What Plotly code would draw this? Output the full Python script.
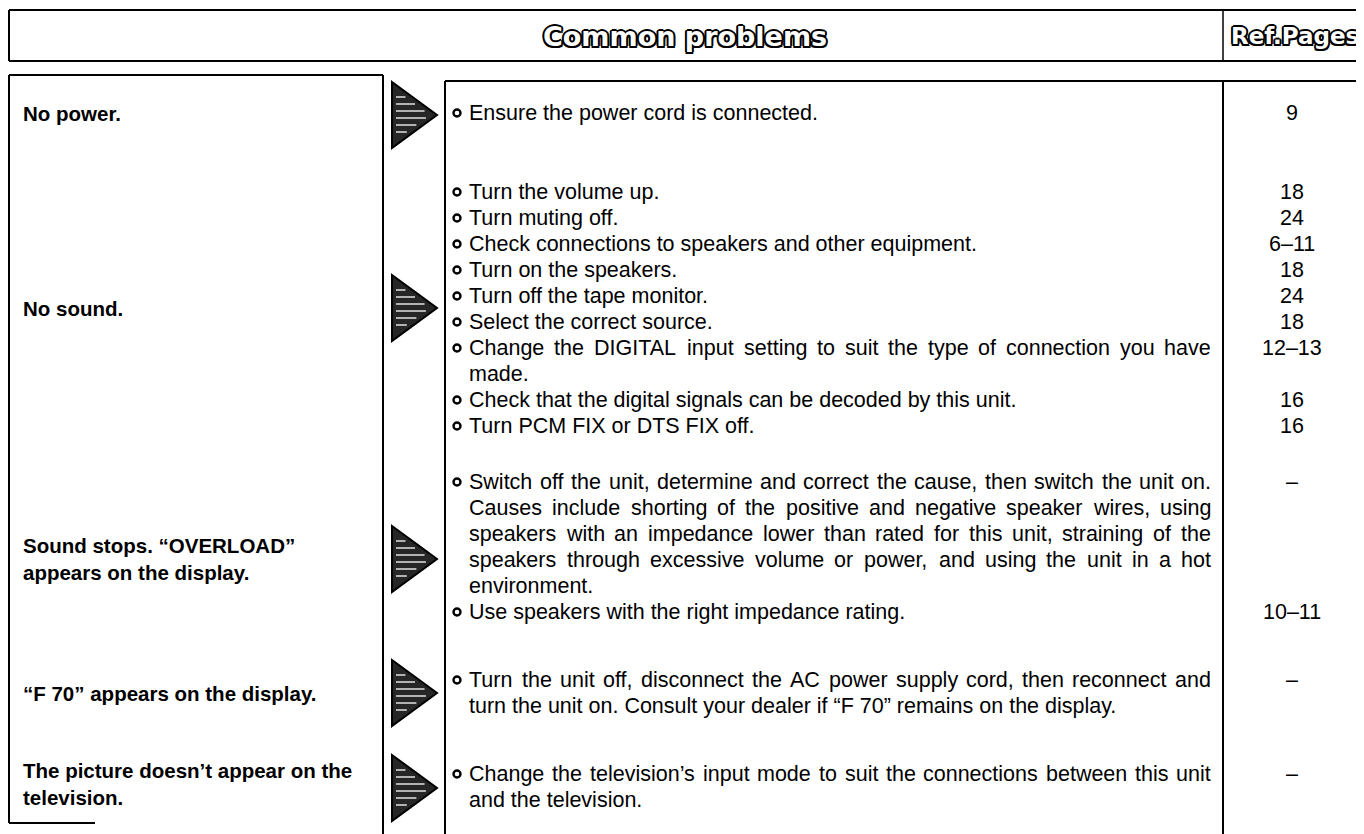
import plotly.graph_objects as go

W, H = 1364, 834
PAD = 8  # default body margin of the html page

# ---------------- data ----------------
title_text = "Common problems"
ref_header = "Ref.Pages"

problems = [
    "No power.",
    "No sound.",
    "Sound stops. “OVERLOAD”<br>appears on the display.",
    "“F 70” appears on the display.",
    "The picture doesn’t appear on the<br>television.",
]

remedies_power = [["Ensure the power cord is connected."]]
refs_power = ["9"]

remedies_sound = [
    ["Turn the volume up."],
    ["Turn muting off."],
    ["Check connections to speakers and other equipment."],
    ["Turn on the speakers."],
    ["Turn off the tape monitor."],
    ["Select the correct source."],
    ["Change the DIGITAL input setting to suit the type of connection you have", "made."],
    ["Check that the digital signals can be decoded by this unit."],
    ["Turn PCM FIX or DTS FIX off."],
]
refs_sound = ["18", "24", "6–11", "18", "24", "18", "12–13", "16", "16"]

remedies_overload = [
    ["Switch off the unit, determine and correct the cause, then switch the unit on.",
     "Causes include shorting of the positive and negative speaker wires, using",
     "speakers with an impedance lower than rated for this unit, straining of the",
     "speakers through excessive volume or power, and using the unit in a hot",
     "environment."],
    ["Use speakers with the right impedance rating."],
]
refs_overload = ["–", "10–11"]

remedies_f70 = [
    ["Turn the unit off, disconnect the AC power supply cord, then reconnect and",
     "turn the unit on. Consult your dealer if “F 70” remains on the display."],
]
refs_f70 = ["–"]

remedies_tv = [
    ["Change the television’s input mode to suit the connections between this unit",
     "and the television."],
]
refs_tv = ["–"]

groups = [remedies_power, remedies_sound, remedies_overload, remedies_f70, remedies_tv]
group_refs = [refs_power, refs_sound, refs_overload, refs_f70, refs_tv]

# ---------------- layout / style ----------------
FONT = "Liberation Sans, Arial, Helvetica, sans-serif"
FS = 21.5
FSB = 20.5
LINE = 26
group_start = [113, 192, 482, 680, 774]
label_y = [113, 308, 559, 693, 784]
arrow_y = [115, 308, 559, 693, 788]
LABEL_X = 21
BULLET_X = 457
TEXT_X = 467
JUST_R = 1209
REF_X = 1292

# Helvetica / Arial advance widths (1/1000 em)
HW = {' ': 278, '!': 278, '"': 355, "'": 191, '(': 333, ')': 333, ',': 278, '-': 333, '.': 278,
      '/': 278, ':': 278, ';': 278, '?': 556, '“': 333, '”': 333, '’': 222, '–': 556,
      'A': 667, 'B': 667, 'C': 722, 'D': 722, 'E': 667, 'F': 611, 'G': 778, 'H': 722, 'I': 278,
      'J': 500, 'K': 667, 'L': 556, 'M': 833, 'N': 722, 'O': 778, 'P': 667, 'Q': 778, 'R': 722,
      'S': 667, 'T': 611, 'U': 722, 'V': 667, 'W': 944, 'X': 667, 'Y': 667, 'Z': 611,
      'a': 556, 'b': 556, 'c': 500, 'd': 556, 'e': 556, 'f': 278, 'g': 556, 'h': 556, 'i': 222,
      'j': 222, 'k': 500, 'l': 222, 'm': 833, 'n': 556, 'o': 556, 'p': 556, 'q': 556, 'r': 333,
      's': 500, 't': 278, 'u': 556, 'v': 500, 'w': 722, 'x': 500, 'y': 500, 'z': 500}
for d in "0123456789":
    HW[d] = 556


def tw(s, fs=FS):
    return sum(HW.get(c, 556) for c in s) * fs / 1000.0


fig = go.Figure()
shapes = []
ann = []


def line(x0, y0, x1, y1, w=2.0, c="black"):
    shapes.append(dict(type="line", x0=x0, y0=y0, x1=x1, y1=y1, xref="x", yref="y",
                       line=dict(color=c, width=w)))


# header box
line(9, 10, 1364, 10, 2)
line(9, 61, 1364, 61, 2)
line(9, 10, 9, 61, 2)
line(1223, 10, 1223, 61, 1.5)

# left box
line(9, 75, 383, 75, 2)
line(9, 75, 9, 823, 2)
line(383, 75, 383, 834, 2)
line(9, 823, 95, 823, 2)

# middle + right boxes
line(445, 81, 1358, 81, 2)
line(445, 81, 445, 834, 2)
line(1223, 81, 1223, 834, 2)
line(1358, 81, 1358, 834, 2)

# arrows
for cy in arrow_y:
    shapes.append(dict(type="path", xref="x", yref="y",
                       path=f"M 392 {cy-33} L 437 {cy} L 392 {cy+33} Z",
                       fillcolor="#262626", line=dict(color="black", width=2)))
    for dy in (-18, -11, -4, 3, 10, 17):
        xmax = 392 + 45 * (1 - abs(dy) / 33.0) - 7
        line(396, cy + dy, xmax, cy + dy, 1.3, "white")

# header texts (white letters with black outline)
outline = ", ".join(f"{dx}px {dy}px 0 #000" for dx, dy in
                    [(-1.5, -1.5), (1.5, -1.5), (-1.5, 1.5), (1.5, 1.5), (0, 2), (0, -2), (2, 0), (-2, 0)])
ann.append(dict(x=685, y=36, text=title_text, showarrow=False, xanchor="center", yanchor="middle",
                font=dict(family="DejaVu Sans", size=27, color="white", weight="bold", shadow=outline)))
ann.append(dict(x=1229, y=36, text=ref_header, showarrow=False, xanchor="left", yanchor="middle",
                font=dict(family="DejaVu Sans", size=23, color="white", weight="bold", shadow=outline)))

# problem labels
for txt, y in zip(problems, label_y):
    ann.append(dict(x=LABEL_X, y=y, text=txt, showarrow=False, xanchor="left", yanchor="middle",
                    align="left", font=dict(family=FONT, size=FSB, color="black", weight="bold")))

# remedies
bx, by = [], []
for g, start, refs in zip(groups, group_start, group_refs):
    y = start
    for item, ref in zip(g, refs):
        bx.append(BULLET_X)
        by.append(y)
        ann.append(dict(x=REF_X, y=y, text=ref, showarrow=False, xanchor="center", yanchor="middle",
                        font=dict(family=FONT, size=FS, color="black")))
        for i, ln in enumerate(item):
            if i < len(item) - 1:
                words = ln.split(" ")
                nat = sum(tw(w) for w in words)
                gap = max((JUST_R - TEXT_X - nat) / (len(words) - 1), tw(" ") * 0.6)
                x = TEXT_X
                for w in words:
                    ann.append(dict(x=x, y=y, text=w, showarrow=False, xanchor="left", yanchor="middle",
                                    font=dict(family=FONT, size=FS, color="black")))
                    x += tw(w) + gap
            else:
                ann.append(dict(x=TEXT_X, y=y, text=ln, showarrow=False, xanchor="left", yanchor="middle",
                                font=dict(family=FONT, size=FS, color="black")))
            y += LINE

fig.add_trace(go.Scatter(x=bx, y=by, mode="markers", hoverinfo="skip",
                         marker=dict(symbol="circle-open", size=7, color="black", line=dict(width=2.4))))

fig.update_layout(width=W - PAD, height=H - PAD, margin=dict(l=0, r=0, t=0, b=0),
                  paper_bgcolor="white", plot_bgcolor="white", showlegend=False,
                  shapes=shapes, annotations=ann,
                  xaxis=dict(range=[PAD, W], visible=False, fixedrange=True),
                  yaxis=dict(range=[H, PAD], visible=False, fixedrange=True))

fig.write_html("out.html")
